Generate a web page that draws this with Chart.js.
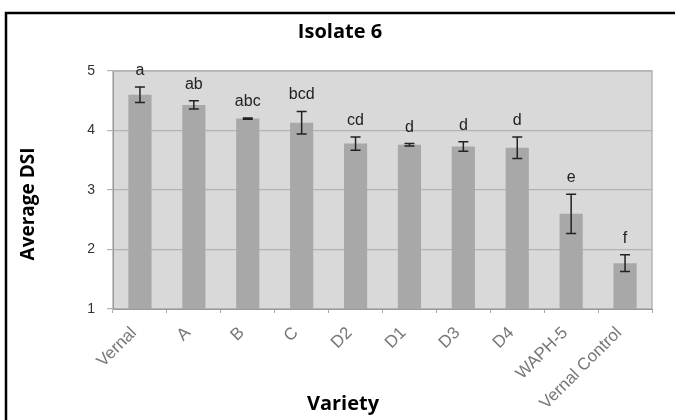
<!DOCTYPE html>
<html>
<head>
<meta charset="utf-8">
<script src="https://cdn.jsdelivr.net/npm/chart.js@4.4.0/dist/chart.umd.min.js"></script>
<style>
  html, body { margin: 0; padding: 0; background: #fff; }
  #wrap { width: 675px; height: 420px; position: relative; }
</style>
</head>
<body>
<div id="wrap"><canvas id="chart" width="675" height="420"></canvas></div>
<script>
// values
const varieties = ['Vernal', 'A', 'B', 'C', 'D2', 'D1', 'D3', 'D4', 'WAPH-5', 'Vernal Control'];
const averageDSI = [4.6, 4.43, 4.2, 4.13, 3.78, 3.76, 3.73, 3.71, 2.6, 1.77];
const errorDSI = [0.13, 0.07, 0.01, 0.19, 0.11, 0.02, 0.08, 0.18, 0.33, 0.14];
const groupLetters = ['a', 'ab', 'abc', 'bcd', 'cd', 'd', 'd', 'd', 'e', 'f'];
const yTicks = [1, 2, 3, 4, 5];

// error bars + significance letters
const errorBars = {
    id: 'errorBars',
    afterDatasetsDraw(chart) {
        const ctx = chart.ctx;
        const x = chart.scales.x, y = chart.scales.y;
        ctx.save();
        ctx.strokeStyle = '#222';
        ctx.lineWidth = 1.5;
        ctx.fillStyle = '#222';
        ctx.font = '16px "Liberation Sans", Arial, sans-serif';
        ctx.textAlign = 'center';
        ctx.textBaseline = 'alphabetic';
        averageDSI.forEach((v, i) => {
            const cx = x.getPixelForValue(i);
            const top = y.getPixelForValue(v + errorDSI[i]);
            const bot = y.getPixelForValue(v - errorDSI[i]);
            ctx.beginPath();
            ctx.moveTo(cx, top); ctx.lineTo(cx, bot);
            ctx.moveTo(cx - 5, top); ctx.lineTo(cx + 5, top);
            ctx.moveTo(cx - 5, bot); ctx.lineTo(cx + 5, bot);
            ctx.stroke();
            ctx.fillText(groupLetters[i], cx, top - 12);
        });
        ctx.restore();
    }
};

// frame, title and axis titles placed like the figure
const figureText = {
    id: 'figureText',
    afterDraw(chart) {
        const ctx = chart.ctx;
        ctx.save();
        ctx.strokeStyle = '#000';
        ctx.lineWidth = 2.5;
        ctx.beginPath();
        ctx.moveTo(6, 420); ctx.lineTo(6, 13); ctx.lineTo(675, 13);
        ctx.stroke();
        ctx.fillStyle = '#000';
        ctx.textAlign = 'center';
        ctx.textBaseline = 'middle';
        ctx.font = 'bold 20px "Open Sans", sans-serif';
        ctx.fillText('Isolate 6', 340, 32);
        ctx.fillText('Variety', 343, 404);
        ctx.translate(29, 204);
        ctx.rotate(-Math.PI / 2);
        ctx.font = 'bold 19px "Open Sans", sans-serif';
        ctx.fillText('Average DSI', 0, 0);
        ctx.restore();
    }
};

const plotBackground = {
    id: 'plotBackground',
    beforeDraw(chart) {
        const a = chart.chartArea;
        const ctx = chart.ctx;
        ctx.save();
        ctx.fillStyle = '#d9d9d9';
        ctx.fillRect(a.left, a.top, a.right - a.left, a.bottom - a.top);
        ctx.strokeStyle = '#b5b5b5';
        ctx.lineWidth = 1.5;
        ctx.strokeRect(a.left, a.top, a.right - a.left, a.bottom - a.top);
        ctx.restore();
    }
};

new Chart(document.getElementById('chart'), {
    type: 'bar',
    data: {
        labels: varieties,
        datasets: [{
            data: averageDSI,
            backgroundColor: '#a8a8a8',
            borderWidth: 0,
            categoryPercentage: 1,
            barPercentage: 0.43
        }]
    },
    options: {
        responsive: false,
        animation: false,
        layout: { padding: { left: 0, right: 23, top: 71, bottom: 0 } },
        plugins: { legend: { display: false }, tooltip: { enabled: false } },
        scales: {
            x: {
                grid: { display: true, drawOnChartArea: false, offset: true, color: '#aaa', tickLength: 4 },
                border: { color: '#999' },
                ticks: {
                    maxRotation: 45, minRotation: 45,
                    color: '#777',
                    padding: 10,
                    labelOffset: -6,
                    font: { family: '"Liberation Sans", Arial, sans-serif', size: 17 }
                },
                afterFit(scale) { scale.height = 111; }
            },
            y: {
                min: 1, max: 5,
                afterBuildTicks(scale) { scale.ticks = yTicks.map(v => ({ value: v })); },
                grid: { color: '#b3b3b3', tickLength: 6, lineWidth: 1.2 },
                border: { color: '#999' },
                ticks: {
                    color: '#333',
                    padding: 12,
                    font: { family: '"Liberation Sans", Arial, sans-serif', size: 14 }
                },
                afterFit(scale) { scale.width = 113; }
            }
        }
    },
    plugins: [plotBackground, errorBars, figureText]
});
</script>
</body>
</html>
